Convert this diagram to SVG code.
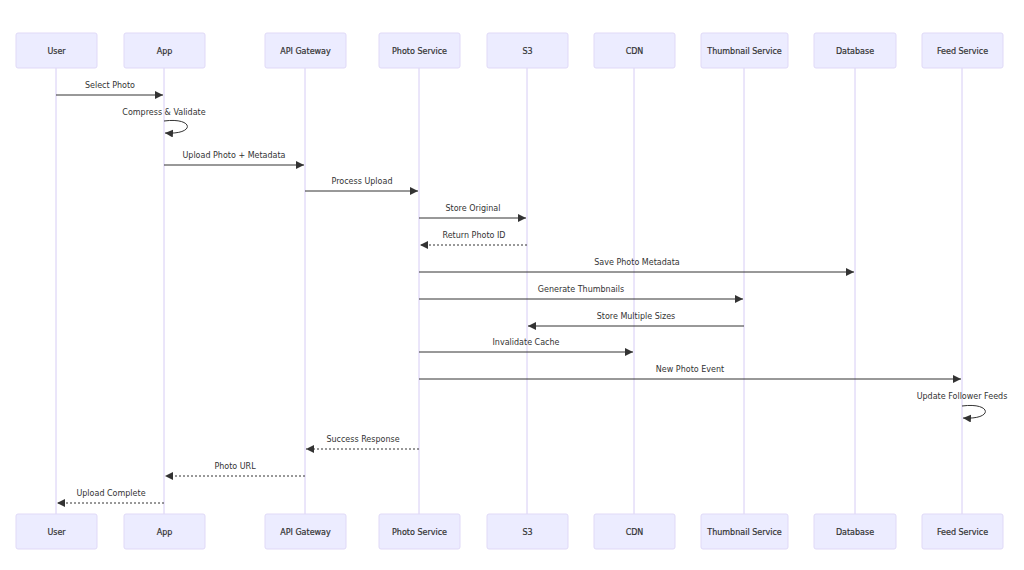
<svg xmlns="http://www.w3.org/2000/svg" width="1024" height="570" viewBox="0 0 1024 570">
<style>
.actor rect{fill:#ECECFF;stroke:#E0D9F7;stroke-width:1}
.actor text{font-family:"DejaVu Sans",Verdana,sans-serif;font-size:8px;fill:#333;text-anchor:middle;dominant-baseline:central;font-weight:normal;stroke:#333;stroke-width:0.2}
.life{stroke:#D6CCF5;stroke-width:1}
.msg{stroke:#333;stroke-width:1;fill:none}
.dash{stroke-dasharray:2,2}
.lbl{font-family:"DejaVu Sans",Verdana,sans-serif;font-size:8px;fill:#333;text-anchor:middle}
</style>
<defs>
<marker id="ah" viewBox="0 0 10 10" refX="10" refY="5" markerWidth="8" markerHeight="8" markerUnits="userSpaceOnUse" orient="auto">
<path d="M0,0 L10,5 L0,10 z" fill="#333"/>
</marker>
</defs>
<rect width="1024" height="570" fill="#fff"/>
<g id="lifelines">
<line class="life" x1="56" y1="68" x2="56" y2="514"/>
<line class="life" x1="164" y1="68" x2="164" y2="514"/>
<line class="life" x1="305" y1="68" x2="305" y2="514"/>
<line class="life" x1="419" y1="68" x2="419" y2="514"/>
<line class="life" x1="527" y1="68" x2="527" y2="514"/>
<line class="life" x1="634" y1="68" x2="634" y2="514"/>
<line class="life" x1="744" y1="68" x2="744" y2="514"/>
<line class="life" x1="855" y1="68" x2="855" y2="514"/>
<line class="life" x1="962" y1="68" x2="962" y2="514"/>
</g>
<g id="user" class="actor"><rect x="16" y="33" width="81" height="35" rx="2"/><text x="56.5" y="51">User</text><rect x="16" y="514" width="81" height="35" rx="2"/><text x="56.5" y="532">User</text></g>
<g id="app" class="actor"><rect x="124" y="33" width="81" height="35" rx="2"/><text x="164.5" y="51">App</text><rect x="124" y="514" width="81" height="35" rx="2"/><text x="164.5" y="532">App</text></g>
<g id="gateway" class="actor"><rect x="265" y="33" width="81" height="35" rx="2"/><text x="305.5" y="51">API Gateway</text><rect x="265" y="514" width="81" height="35" rx="2"/><text x="305.5" y="532">API Gateway</text></g>
<g id="photo" class="actor"><rect x="379" y="33" width="81" height="35" rx="2"/><text x="419.5" y="51">Photo Service</text><rect x="379" y="514" width="81" height="35" rx="2"/><text x="419.5" y="532">Photo Service</text></g>
<g id="s3" class="actor"><rect x="487" y="33" width="81" height="35" rx="2"/><text x="527.5" y="51">S3</text><rect x="487" y="514" width="81" height="35" rx="2"/><text x="527.5" y="532">S3</text></g>
<g id="cdn" class="actor"><rect x="594" y="33" width="81" height="35" rx="2"/><text x="634.5" y="51">CDN</text><rect x="594" y="514" width="81" height="35" rx="2"/><text x="634.5" y="532">CDN</text></g>
<g id="thumb" class="actor"><rect x="701" y="33" width="87" height="35" rx="2"/><text x="744.5" y="51">Thumbnail Service</text><rect x="701" y="514" width="87" height="35" rx="2"/><text x="744.5" y="532">Thumbnail Service</text></g>
<g id="db" class="actor"><rect x="814" y="33" width="82" height="35" rx="2"/><text x="855" y="51">Database</text><rect x="814" y="514" width="82" height="35" rx="2"/><text x="855" y="532">Database</text></g>
<g id="feed" class="actor"><rect x="922" y="33" width="81" height="35" rx="2"/><text x="962.5" y="51">Feed Service</text><rect x="922" y="514" width="81" height="35" rx="2"/><text x="962.5" y="532">Feed Service</text></g>
<g id="connectors">
<line class="msg" x1="56" y1="95" x2="163" y2="95" marker-end="url(#ah)"/>
<text class="lbl" x="110" y="88">Select Photo</text>
<path class="msg" d="M164,121 C194,117 196,135 165,133" marker-end="url(#ah)"/>
<text class="lbl" x="164" y="115">Compress &amp; Validate</text>
<line class="msg" x1="164" y1="165" x2="304" y2="165" marker-end="url(#ah)"/>
<text class="lbl" x="234" y="158">Upload Photo + Metadata</text>
<line class="msg" x1="305" y1="191" x2="418" y2="191" marker-end="url(#ah)"/>
<text class="lbl" x="362" y="184">Process Upload</text>
<line class="msg" x1="419" y1="218" x2="526" y2="218" marker-end="url(#ah)"/>
<text class="lbl" x="473" y="211">Store Original</text>
<line class="msg dash" x1="527" y1="245" x2="420" y2="245" marker-end="url(#ah)"/>
<text class="lbl" x="474" y="238">Return Photo ID</text>
<line class="msg" x1="419" y1="272" x2="854" y2="272" marker-end="url(#ah)"/>
<text class="lbl" x="637" y="265">Save Photo Metadata</text>
<line class="msg" x1="419" y1="299" x2="743" y2="299" marker-end="url(#ah)"/>
<text class="lbl" x="581" y="292">Generate Thumbnails</text>
<line class="msg" x1="744" y1="326" x2="528" y2="326" marker-end="url(#ah)"/>
<text class="lbl" x="636" y="319">Store Multiple Sizes</text>
<line class="msg" x1="419" y1="352" x2="633" y2="352" marker-end="url(#ah)"/>
<text class="lbl" x="526" y="345">Invalidate Cache</text>
<line class="msg" x1="419" y1="379" x2="961" y2="379" marker-end="url(#ah)"/>
<text class="lbl" x="690" y="372">New Photo Event</text>
<path class="msg" d="M962,406 C992,402 994,420 963,418" marker-end="url(#ah)"/>
<text class="lbl" x="962" y="399">Update Follower Feeds</text>
<line class="msg dash" x1="419" y1="449" x2="306" y2="449" marker-end="url(#ah)"/>
<text class="lbl" x="363" y="442">Success Response</text>
<line class="msg dash" x1="305" y1="476" x2="165" y2="476" marker-end="url(#ah)"/>
<text class="lbl" x="235" y="469">Photo URL</text>
<line class="msg dash" x1="164" y1="503" x2="57" y2="503" marker-end="url(#ah)"/>
<text class="lbl" x="111" y="496">Upload Complete</text>
</g>
</svg>
